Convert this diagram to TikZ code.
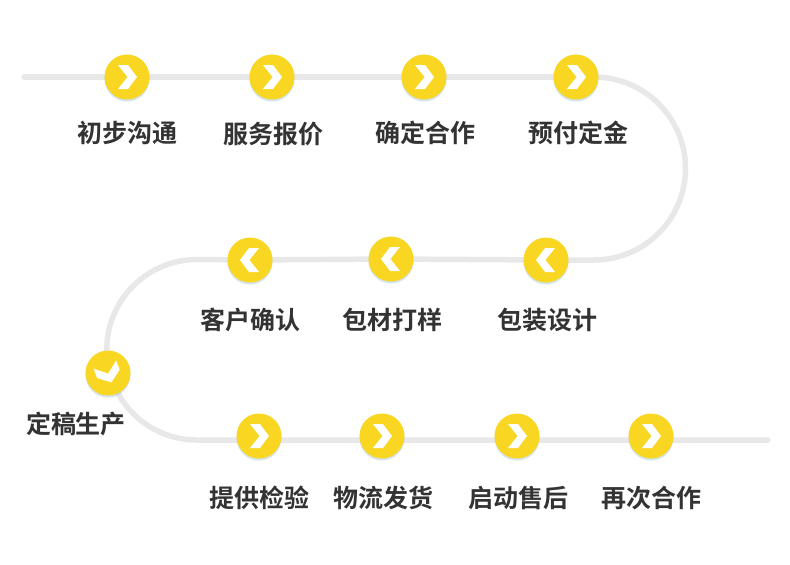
\documentclass[tikz,border=0pt]{standalone}
\usepackage{fontspec}
\setmainfont{Noto Sans CJK SC Bold}
\usetikzlibrary{backgrounds,shadows}
\definecolor{stepyellow}{HTML}{F8D622}
\definecolor{trackgray}{HTML}{E8E8E8}
\definecolor{labelgray}{HTML}{333333}
\tikzset{
  stepdot/.style={circle, fill=stepyellow, minimum size=45pt, inner sep=0pt,
    drop shadow={shadow xshift=0pt, shadow yshift=-2pt, fill=black!40!cyan!60, opacity=0.35}},
  steplabel/.style={text=labelgray, font=\fontsize{25}{27}\selectfont, inner sep=0pt},
  track/.style={draw=trackgray, line width=5.5pt, line cap=round}
}
\newcommand{\chevron}[2]{\fill[white, shift={(#1)}, rotate=#2]
  (-9,-12) -- (1,-12) -- (10,0) -- (1,12) -- (-9,12) -- (0.5,0) -- cycle;}

\begin{document}
\begin{tikzpicture}[x=1pt, y=-1pt]
  \useasboundingbox (0,0) rectangle (790,565);

  % Steps, first row
  \node[stepdot] (S1) at (127,77) {};
  \node[stepdot] (S2) at (272,77) {};
  \node[stepdot] (S3) at (424,77) {};
  \node[stepdot] (S4) at (576,77) {};

  % Steps, second row
  \node[stepdot] (S5) at (546,260) {};
  \node[stepdot] (S6) at (391,259) {};
  \node[stepdot] (S7) at (250,260) {};

  % Step on the bend
  \node[stepdot] (S8) at (108,373) {};

  % Steps, third row
  \node[stepdot] (S9) at (259,436) {};
  \node[stepdot] (S10) at (382,436) {};
  \node[stepdot] (S11) at (517,436) {};
  \node[stepdot] (S12) at (651,436) {};

  % Free ends and bends of the track
  \coordinate (Start) at (24,77);
  \coordinate (End) at (768,440);
  \coordinate (BendA) at (594,77);
  \coordinate (BendB) at (197,259.5);

  % Track
  \begin{scope}[on background layer]
    \draw[track] (Start) -- (S1.center) -- (S2.center) -- (S3.center) -- (S4.center);
    \draw[track] (S4.center) -- (BendA) arc[start angle=-90, end angle=90, radius=91.5] -- (S5.center);
    \draw[track] (S5.center) -- (S6.center) -- (S7.center);
    \draw[track] (S7.center) -- (BendB) arc[start angle=-90, end angle=-270, radius=90.25] -- (End);
  \end{scope}

  % Chevrons
  \chevron{S1}{0}
  \chevron{S2}{0}
  \chevron{S3}{0}
  \chevron{S4}{0}
  \chevron{S5}{180}
  \chevron{S6}{180}
  \chevron{S7}{180}
  \chevron{S8}{-70}
  \chevron{S9}{0}
  \chevron{S10}{0}
  \chevron{S11}{0}
  \chevron{S12}{0}

  % Labels
  \node[steplabel] (L1) at (127,133) {初步沟通};
  \node[steplabel] (L2) at (273,134) {服务报价};
  \node[steplabel] (L3) at (425,133) {确定合作};
  \node[steplabel] (L4) at (578,133) {预付定金};
  \node[steplabel] (L5) at (547,320) {包装设计};
  \node[steplabel] (L6) at (392,320) {包材打样};
  \node[steplabel] (L7) at (250,320) {客户确认};
  \node[steplabel] (L8) at (76,424) {定稿生产};
  \node[steplabel] (L9) at (259,498) {提供检验};
  \node[steplabel] (L10) at (383,498) {物流发货};
  \node[steplabel] (L11) at (518,498) {启动售后};
  \node[steplabel] (L12) at (651,498) {再次合作};
\end{tikzpicture}
\end{document}
